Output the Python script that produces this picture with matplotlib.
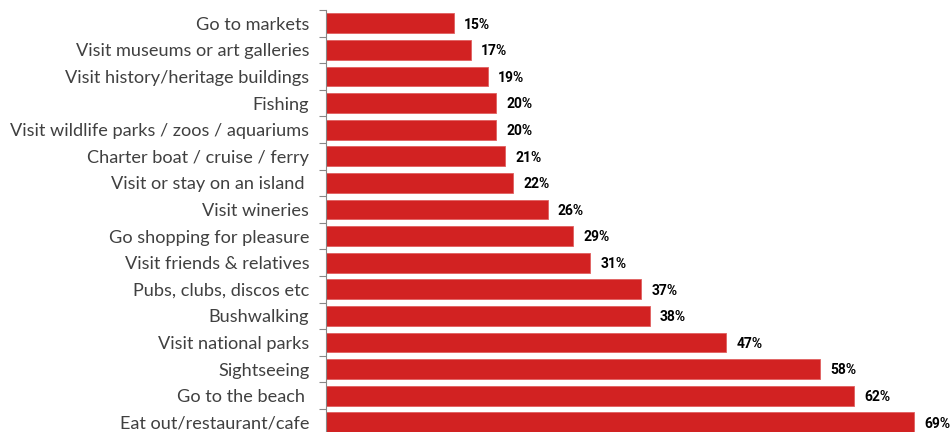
#!/usr/bin/env python3
"""Horizontal bar chart of holiday activities"""

import matplotlib
matplotlib.use('Agg')
import matplotlib.pyplot as plt

activities = [
    'Go to markets',
    'Visit museums or art galleries',
    'Visit history/heritage buildings',
    'Fishing',
    'Visit wildlife parks / zoos / aquariums',
    'Charter boat / cruise / ferry',
    'Visit or stay on an island ',
    'Visit wineries',
    'Go shopping for pleasure',
    'Visit friends & relatives',
    'Pubs, clubs, discos etc',
    'Bushwalking',
    'Visit national parks',
    'Sightseeing',
    'Go to the beach ',
    'Eat out/restaurant/cafe',
]
shares = [15, 17, 19, 20, 20, 21, 22, 26, 29, 31, 37, 38, 47, 58, 62, 69]


def main() -> None:
    fig = plt.figure(figsize=(9.53, 4.32), dpi=100)
    # axes run off the bottom edge a little, as in the original
    ax = fig.add_axes([326 / 953, -3.6 / 432, 627 / 953, 425.6 / 432])

    pos = list(range(len(activities)))
    ax.barh(pos, shares, height=0.74, color='#d22222', edgecolor='#e06060', linewidth=0.6)

    ax.set_ylim(len(activities) - 0.5, -0.5)
    ax.set_xlim(0, 627 / 8.52)

    ax.set_yticks(pos)
    ax.set_yticklabels(activities, fontsize=13.1, color='#404040', family='Lato')
    ax.set_yticks([p - 0.5 for p in pos] + [len(pos) - 0.5], minor=True)
    ax.tick_params(axis='y', which='major', length=0, pad=12)
    ax.tick_params(axis='y', which='minor', length=5, color='#888888', width=0.8)
    ax.set_xticks([])

    for side in ('top', 'right', 'bottom'):
        ax.spines[side].set_visible(False)
    ax.spines['left'].set_color('#888888')
    ax.spines['left'].set_linewidth(0.8)

    for p, v in zip(pos, shares):
        ax.text(v + 1.2, p + 0.05, f'{v}%', va='center', ha='left',
                fontsize=10, fontweight='bold', color='black', family='Roboto')

    fig.savefig('out.png', dpi=100)


if __name__ == '__main__':
    main()
